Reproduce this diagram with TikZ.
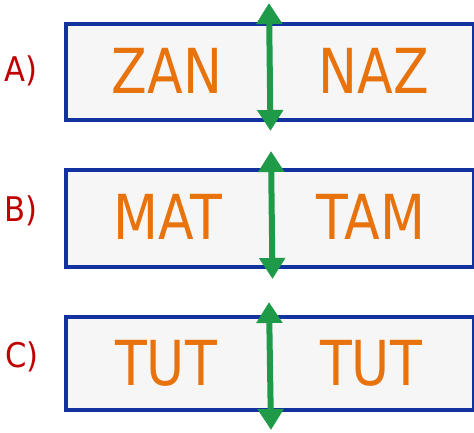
\documentclass[tikz,border=0pt]{standalone}
\usepackage{fontspec}
\setmainfont{DejaVu Sans}
\newfontfamily\wordfont[FakeStretch=0.84]{DejaVu Sans}
\newfontfamily\labfont[FakeStretch=0.9]{DejaVu Sans}
\usetikzlibrary{arrows.meta}
\definecolor{boxblue}{HTML}{1232A0}
\definecolor{boxfill}{HTML}{F6F6F6}
\definecolor{wordorange}{HTML}{E8720C}
\definecolor{labred}{HTML}{C00000}
\definecolor{arrgreen}{HTML}{1E9A48}
\tikzset{
  wordbox/.style={draw=boxblue, line width=3.6pt, fill=boxfill, rectangle, inner sep=0pt, anchor=north west},
  word/.style={text=wordorange, font=\wordfont\fontsize{62}{62}\selectfont, inner sep=0pt, anchor=center},
  lab/.style={text=labred, font=\labfont\fontsize{34}{34}\selectfont, inner sep=0pt, anchor=center},
  mirror/.style={draw=arrgreen, line width=6pt, {Triangle[width=25pt,length=21pt]}-{Triangle[width=25pt,length=21pt]}}
}
\begin{document}
\begin{tikzpicture}[x=1pt,y=-1pt]
\useasboundingbox (0,0) rectangle (474,433);
% A
\node[wordbox, minimum width=408pt, minimum height=96pt] (boxA) at (64,22) {};
\node[lab] (labA) at (21,71) {A)};
\node[word] (a1) at (167,71) {ZAN};
\node[word] (a2) at (374,71) {NAZ};
\coordinate (atop) at (269,3);
\coordinate (abot) at (270.5,131);
\draw[mirror] (atop) -- (abot);
% B
\node[wordbox, minimum width=408pt, minimum height=97pt] (boxB) at (64,168) {};
\node[lab] (labB) at (21,211) {B)};
\node[word] (b1) at (168,217) {MAT};
\node[word] (b2) at (371,217) {TAM};
\coordinate (btop) at (271,151);
\coordinate (bbot) at (272.5,279);
\draw[mirror] (btop) -- (bbot);
% C
\node[wordbox, minimum width=408pt, minimum height=93pt] (boxC) at (64,315) {};
\node[lab] (labC) at (22,357) {C)};
\node[word] (c1) at (166,363) {TUT};
\node[word] (c2) at (371,363) {TUT};
\coordinate (ctop) at (269,302);
\coordinate (cbot) at (271,430);
\draw[mirror] (ctop) -- (cbot);
\end{tikzpicture}
\end{document}
